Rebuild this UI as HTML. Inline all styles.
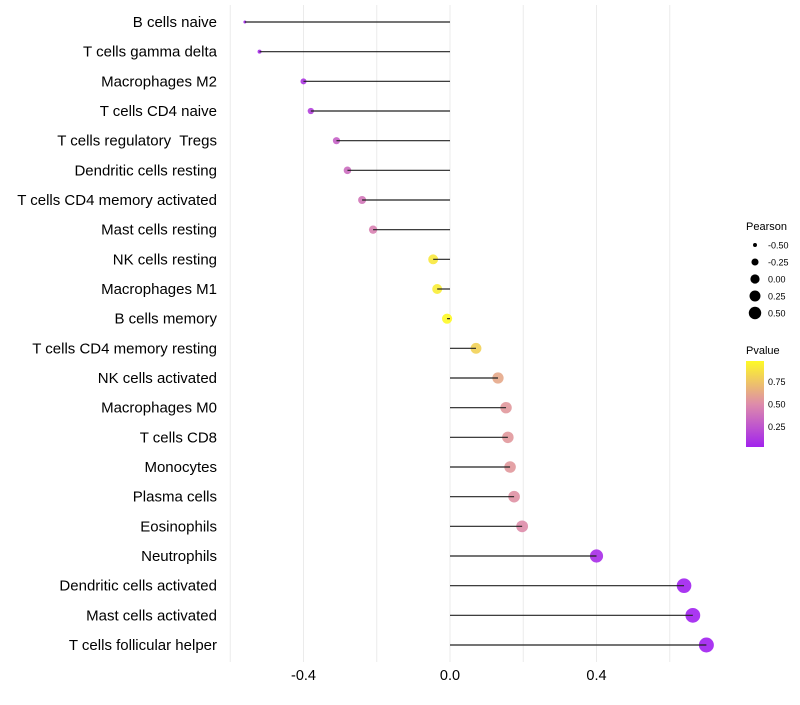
<!DOCTYPE html>
<html><head><meta charset="utf-8"><style>
body{margin:0;background:#fff;font-family:"Liberation Sans",sans-serif}
text{white-space:pre}
</style></head><body>
<svg id="c" width="800" height="700" xmlns="http://www.w3.org/2000/svg"></svg>
<script>
const categories=["B cells naive","T cells gamma delta","Macrophages M2","T cells CD4 naive","T cells regulatory  Tregs","Dendritic cells resting","T cells CD4 memory activated","Mast cells resting","NK cells resting","Macrophages M1","B cells memory","T cells CD4 memory resting","NK cells activated","Macrophages M0","T cells CD8","Monocytes","Plasma cells","Eosinophils","Neutrophils","Dendritic cells activated","Mast cells activated","T cells follicular helper"];
const pearson=[-0.56,-0.52,-0.40,-0.38,-0.31,-0.28,-0.24,-0.21,-0.046,-0.035,-0.008,0.071,0.131,0.153,0.158,0.164,0.175,0.197,0.40,0.639,0.663,0.70];
const pvalue=[0.02,0.05,0.1,0.15,0.3,0.35,0.4,0.45,0.9,0.92,0.98,0.8,0.62,0.55,0.55,0.55,0.52,0.5,0.06,0.01,0.01,0.005];
const xTicks=[-0.4,0,0.4];
const xTickLabels=["-0.4","0.0","0.4"];
const gridVals=[-0.6,-0.4,-0.2,0,0.2,0.4,0.6];
const sizeLegend=[-0.5,-0.25,0,0.25,0.5];
const colorLegend=[0.75,0.5,0.25];
const NS="http://www.w3.org/2000/svg";
const svg=document.getElementById('c');
const x=v=>450+v*366.25;
const y=i=>22+i*(623/21);
const rad=v=>{const t=Math.max(0,Math.min(1,(v+0.56)/1.26));return Math.sqrt(2.25+54*t);};
function col(p){const s=[[0,[160,31,240]],[0.5,[222,140,170]],[1,[255,255,32]]];
 let a=p<=0.5?s[0]:s[1],b=p<=0.5?s[1]:s[2];let t=(p-a[0])/(b[0]-a[0]);
 return 'rgb('+a[1].map((c,k)=>Math.round(c+(b[1][k]-c)*t)).join(',')+')';}
function el(t,at,txt){const e=document.createElementNS(NS,t);for(const k in at)e.setAttribute(k,at[k]);if(txt!==undefined)e.textContent=txt;svg.appendChild(e);return e;}
gridVals.forEach(g=>{const e=el('line',{x1:x(g),x2:x(g),y1:5,y2:662,stroke:'#ebebeb','stroke-width':1});

});
categories.forEach((c,i)=>{
 const t=el('text',{x:217,y:y(i)+5,'text-anchor':'end','font-size':15,fill:'#000'},c);
 
 
 const d=el('circle',{cx:x(pearson[i]),cy:y(i),r:rad(pearson[i]),fill:col(pvalue[i]),'fill-opacity':0.9});
 
 
 const l=el('line',{x1:x(0),x2:x(pearson[i]),y1:y(i),y2:y(i),stroke:'#222','stroke-width':1.2});
 
 
});
xTicks.forEach((v,i)=>{const t=el('text',{x:x(v),y:680,'text-anchor':'middle','font-size':14.5,fill:'#000'},xTickLabels[i]);

});
let t=el('text',{x:746,y:230,'font-size':11},'Pearson');


sizeLegend.forEach((v,i)=>{const cy=245+i*17;
 const c=el('circle',{cx:755,cy:cy,r:rad(v)*0.9,fill:'#000'});
 
 
 const tt=el('text',{x:768,y:cy+3.5,'font-size':9},v.toFixed(2));
 
 });
t=el('text',{x:746,y:354,'font-size':11},'Pvalue');


const defs=el('defs',{});
const gr=document.createElementNS(NS,'linearGradient');gr.setAttribute('id','g');gr.setAttribute('x1','0');gr.setAttribute('x2','0');gr.setAttribute('y1','1');gr.setAttribute('y2','0');
[0,0.25,0.5,0.75,1].forEach(o=>{const s=document.createElementNS(NS,'stop');s.setAttribute('offset',o);s.setAttribute('stop-color',col(0.02+o*0.96));gr.appendChild(s);});
defs.appendChild(gr);
const bar=el('rect',{x:746,y:361,width:18,height:86,fill:'url(#g)'});


colorLegend.forEach(v=>{const cy=447-(v-0.02)/0.96*86;
 const tt=el('text',{x:768,y:cy+3.5,'font-size':9},v.toFixed(2));
 
 });
</script>
</body></html>
